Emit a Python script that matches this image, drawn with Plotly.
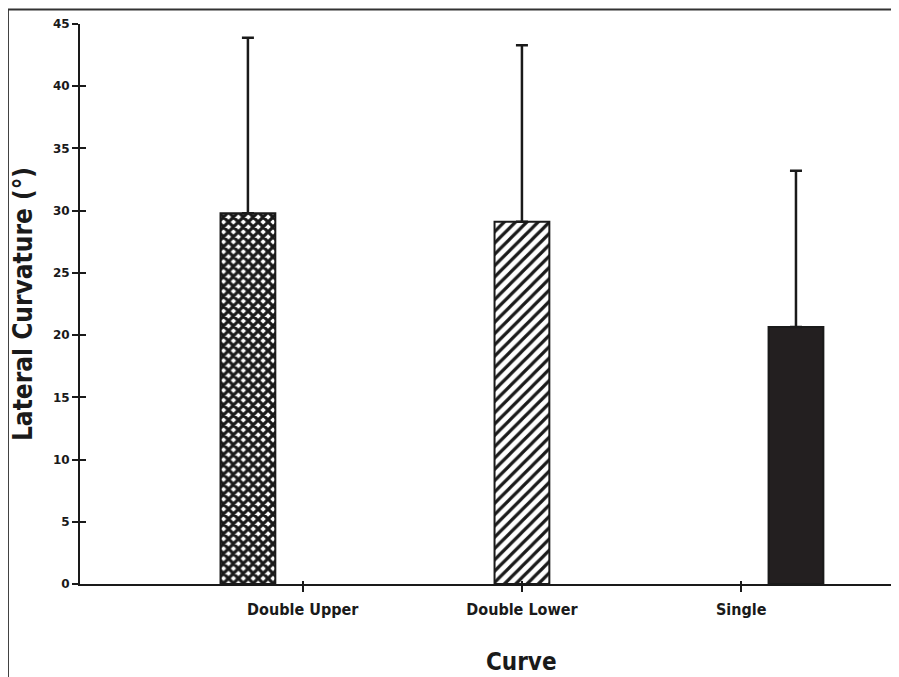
import plotly.graph_objects as go

categories = ["Double Upper", "Double Lower", "Single"]
means = [29.8, 29.1, 20.65]
sd_upper = [14.1, 14.2, 12.55]
y_ticks = [0, 5, 10, 15, 20, 25, 30, 35, 40, 45]

patterns = [
    dict(shape="x", fgcolor="#1a1a1a", bgcolor="white", size=7, solidity=0.7, fgopacity=1),
    dict(shape="/", fgcolor="#1a1a1a", bgcolor="white", size=8, solidity=0.4, fgopacity=1),
    dict(shape="", fgcolor="#231f20", bgcolor="#231f20"),
]
fills = ["white", "white", "#231f20"]

narrow = "DejaVu Sans Condensed, Liberation Sans Narrow, Liberation Sans, sans-serif"
ink = "#1a1a1a"

fig = go.Figure()
for i, cat in enumerate(categories):
    yv = [None] * len(categories)
    yv[i] = means[i]
    ev = [0] * len(categories)
    ev[i] = sd_upper[i]
    fig.add_trace(go.Bar(
        x=categories, y=yv, name=cat,
        marker=dict(color=fills[i], line=dict(color=ink, width=2),
                    pattern=patterns[i]),
        error_y=dict(type="data", array=ev, arrayminus=[0] * len(categories),
                     symmetric=False, color=ink, thickness=2.5, width=6),
        showlegend=False,
    ))

fig.update_layout(
    width=891, height=669,
    margin=dict(l=72, r=0, t=16, b=93),
    plot_bgcolor="white", paper_bgcolor="white",
    barmode="group", bargap=0.25, bargroupgap=0,
    xaxis=dict(
        type="category", categoryorder="array", categoryarray=categories,
        range=[-1.016, 2.72],
        showline=True, linecolor=ink, linewidth=2,
        ticks="outside", ticklen=6, tickwidth=2, tickcolor=ink,
        showgrid=False, zeroline=False, ticklabelstandoff=4,
        tickfont=dict(family=narrow, size=16, color=ink, weight="bold"),
    ),
    yaxis=dict(
        range=[0, 45], tickvals=y_ticks, ticktext=[str(v) for v in y_ticks],
        showline=True, linecolor=ink, linewidth=2,
        ticks="outside", ticklen=6, tickwidth=2, tickcolor=ink,
        showgrid=False, zeroline=False, automargin=False,
        tickfont=dict(family="DejaVu Sans", size=12, color=ink, weight="bold"),
        title=dict(text="Lateral Curvature (°)", standoff=28,
                   font=dict(family=narrow, size=26, color=ink, weight="bold")),
    ),
    yaxis2=dict(
        overlaying="y", range=[0, 45], tickvals=y_ticks, showticklabels=False,
        ticks="inside", ticklen=6, tickwidth=2, tickcolor=ink,
        showgrid=False, zeroline=False, showline=False,
    ),
    xaxis2=dict(
        overlaying="x", type="category", categoryorder="array", categoryarray=categories,
        range=[-1.016, 2.72], showticklabels=False,
        ticks="inside", ticklen=3, tickwidth=2, tickcolor=ink,
        showgrid=False, zeroline=False, showline=False,
    ),
)

# invisible trace to activate the secondary tick axes
fig.add_trace(go.Scatter(x=categories, y=[None] * 3, xaxis="x2", yaxis="y2",
                         showlegend=False, hoverinfo="skip"))

fig.add_annotation(
    text="Curve", x=1, y=0, xref="x", yref="paper",
    yshift=-78, showarrow=False, yanchor="middle",
    font=dict(family=narrow, size=24, color=ink, weight="bold"),
)

# figure frame (top and left edges, as in the cropped original)
fig.add_shape(type="line", xref="paper", yref="paper",
              x0=-0.088, x1=1.0, y0=1.026, y1=1.026,
              line=dict(color="#333333", width=2))
fig.add_shape(type="line", xref="paper", yref="paper",
              x0=-0.088, x1=-0.088, y0=-0.2, y1=1.026,
              line=dict(color="#333333", width=2))

fig.write_html("out.html")
